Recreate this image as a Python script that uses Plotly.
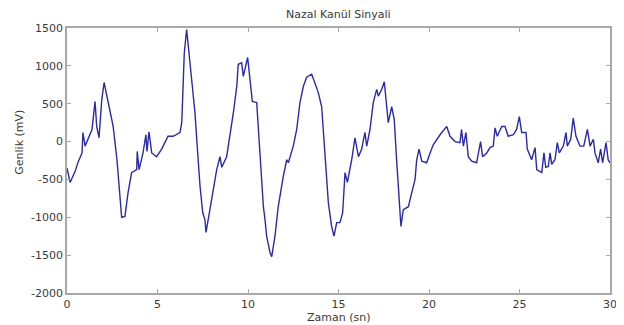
import plotly.graph_objects as go

t = [0, 0.17, 0.44, 0.6, 0.83, 0.88, 1.0, 1.16, 1.38, 1.55,
     1.64, 1.77, 1.92, 2.05, 2.27, 2.55, 2.76, 2.93, 3.02, 3.2,
     3.37, 3.57, 3.85, 3.88, 3.98, 4.2, 4.36, 4.42, 4.53, 4.68,
     4.95, 5.23, 5.58, 5.86, 6.24, 6.34, 6.48, 6.61, 6.7, 6.89,
     7.07, 7.22, 7.35, 7.5, 7.62, 7.68, 7.8, 7.99, 8.18, 8.27,
     8.45, 8.55, 8.82, 9.0, 9.19, 9.38, 9.46, 9.65, 9.74, 9.98,
     10.1, 10.24, 10.48, 10.66, 10.85, 10.94, 11.03, 11.22, 11.31, 11.49,
     11.67, 11.95, 12.14, 12.23, 12.5, 12.69, 12.87, 13.06, 13.24, 13.52,
     13.7, 13.88, 14.07, 14.25, 14.44, 14.62, 14.75, 14.9, 15.08, 15.23,
     15.36, 15.49, 15.73, 15.91, 16.1, 16.28, 16.46, 16.56, 16.74, 16.92,
     17.11, 17.2, 17.39, 17.53, 17.6, 17.75, 17.94, 18.08, 18.21, 18.36,
     18.45, 18.58, 18.86, 19.04, 19.23, 19.32, 19.45, 19.6, 19.87, 20.06,
     20.24, 20.61, 20.88, 20.98, 21.16, 21.44, 21.71, 21.8, 21.9, 22.04,
     22.17, 22.36, 22.63, 22.85, 22.96, 23.19, 23.37, 23.55, 23.65, 23.77,
     24.02, 24.2, 24.38, 24.66, 24.84, 24.99, 25.12, 25.36, 25.43, 25.67,
     25.86, 25.95, 26.23, 26.35, 26.45, 26.59, 26.69, 26.78, 26.96, 27.09,
     27.2, 27.42, 27.57, 27.64, 27.83, 27.97, 28.12, 28.34, 28.55, 28.75,
     28.9, 29.08, 29.17, 29.35, 29.48, 29.59, 29.78, 29.9, 30.0]

genlik = [-350, -540, -400, -280, -150, 120, -60, 30, 160, 530,
          200, 50, 550, 780, 515, 200, -240, -680, -1000, -990,
          -680, -410, -370, -130, -370, -150, 90, -130, 130, -150,
          -200, -100, 70, 70, 120, 250, 1170, 1480, 1260, 820,
          380, -150, -590, -940, -1030, -1200, -1030, -770, -500, -370,
          -200, -340, -200, 70, 380, 730, 1020, 1040, 860, 1110,
          860, 530, 515, -150, -860, -1030, -1250, -1470, -1520, -1250,
          -860, -460, -240, -280, -60, 160, 515, 730, 850, 890,
          780, 650, 460, -150, -810, -1120, -1250, -1070, -1070, -940,
          -410, -540, -240, 50, -200, -100, 120, -60, 160, 515,
          690, 600, 690, 790, 600, 250, 460, 290, -240, -810,
          -1120, -900, -860, -680, -500, -240, -100, -260, -280, -150,
          -40, 90, 160, 200, 70, 0, -15, 160, -60, 120,
          -200, -260, -280, 0, -200, -150, -80, -60, 180, 70,
          200, 200, 70, 90, 160, 330, 120, 120, -100, -240,
          -80, -370, -410, -150, -340, -330, -150, -300, -240, -15,
          -150, -60, 120, -60, 30, 310, 70, -60, -60, 160,
          -60, 30, -150, -280, -100, -280, -15, -240, -280]

x_ticks = [0, 5, 10, 15, 20, 25, 30]
y_ticks = [-2000, -1500, -1000, -500, 0, 500, 1000, 1500]
y_tick_labels = ["-2000", "-1500", "-1000", "-500", "0", "500", "1000", "1500"]

FONT = "DejaVu Sans, Liberation Sans, Arial"
TXT = "#3a3a3a"

fig = go.Figure()
fig.add_trace(go.Scatter(x=t, y=genlik, mode="lines",
                         line=dict(color="#2a2aa8", width=1.4),
                         showlegend=False))

axis_common = dict(showline=True, linecolor="#a8a8a8", linewidth=1.5,
                   mirror="ticks", ticks="inside", ticklen=4,
                   tickcolor="#a8a8a8", showgrid=False, zeroline=False,
                   automargin=False,
                   tickfont=dict(family=FONT, size=11, color=TXT))

fig.update_layout(
    width=616, height=317,
    margin=dict(l=59, r=14, t=20, b=32),
    paper_bgcolor="white", plot_bgcolor="white",
    xaxis=dict(range=[0, 30], tickvals=x_ticks, **axis_common),
    yaxis=dict(range=[-2000, 1500], tickvals=y_ticks, ticktext=y_tick_labels,
               **axis_common),
    annotations=[
        dict(text="Nazal Kanül Sinyali", xref="paper", yref="paper",
             x=0.5, y=1.05, xanchor="center", yanchor="middle",
             showarrow=False, font=dict(family=FONT, size=11, color=TXT)),
        dict(text="Zaman (sn)", xref="paper", yref="paper",
             x=0.5, y=-0.092, xanchor="center", yanchor="middle",
             showarrow=False, font=dict(family=FONT, size=11, color=TXT)),
        dict(text="Genlik (mV)", xref="paper", yref="paper",
             x=-0.087, y=0.57, xanchor="center", yanchor="middle",
             textangle=-90, showarrow=False,
             font=dict(family=FONT, size=11, color=TXT)),
    ],
)

fig.write_html("out.html")
